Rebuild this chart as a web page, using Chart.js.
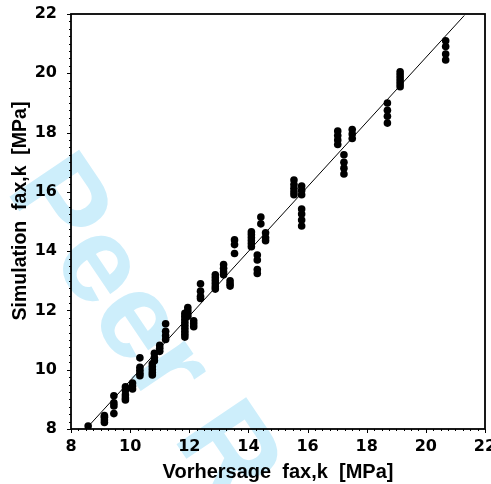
<!DOCTYPE html>
<html>
<head>
<meta charset="utf-8">
<script src="https://cdn.jsdelivr.net/npm/chart.js@4/dist/chart.umd.min.js"></script>
<style>
  body { margin: 0; background: #fff; }
  canvas { display: block; }
</style>
</head>
<body>
<canvas id="scatterChart" width="491" height="484"></canvas>
<script>
// predicted value (x) for each column of points, and the simulated values (y) in that column
const groupX = [8.58, 9.13, 9.45, 9.84, 10.08, 10.33, 10.75, 10.82, 11.0, 11.2,
                11.85, 11.95, 12.15, 12.38, 12.88, 13.16, 13.38, 13.53, 14.1, 14.3,
                14.42, 14.58, 15.54, 15.8, 17.02, 17.23, 17.51, 18.7, 19.13, 20.67];
const groupY = [
  [8.1],
  [8.22, 8.3, 8.4, 8.45],
  [9.12, 8.88, 8.78, 8.52],
  [9.42, 9.3, 9.15, 9.05, 8.98],
  [9.55, 9.45, 9.35],
  [10.4, 10.08, 9.98, 9.88, 9.8],
  [10.2, 10.1, 10.0, 9.9, 9.82],
  [10.55, 10.4, 10.3],
  [10.82, 10.72, 10.62],
  [11.55, 11.3, 11.15, 11.02],
  [11.9, 11.8, 11.7, 11.6, 11.5, 11.4, 11.3, 11.2, 11.1],
  [12.1, 12.0, 11.9, 11.8],
  [11.65, 11.55, 11.45],
  [12.9, 12.65, 12.48, 12.4],
  [13.2, 13.1, 13.0, 12.9, 12.8, 12.72],
  [13.55, 13.42, 13.3, 13.2],
  [13.0, 12.9, 12.82],
  [14.38, 14.22, 13.92],
  [14.65, 14.55, 14.45, 14.35, 14.25, 14.15],
  [13.87, 13.7, 13.38, 13.25],
  [15.15, 14.92],
  [14.62, 14.45, 14.35],
  [16.4, 16.25, 16.12, 16.0, 15.9],
  [16.2, 16.05, 15.9, 15.42, 15.25, 15.05, 14.85],
  [18.05, 17.9, 17.75, 17.6],
  [17.25, 17.0, 16.8, 16.6],
  [18.1, 17.95, 17.8],
  [19.0, 18.75, 18.55, 18.32],
  [20.05, 19.95, 19.85, 19.75, 19.65, 19.55],
  [21.1, 20.9, 20.65, 20.45]
];
// reference line
const lineX = [8.55, 21.3];
const lineY = [8.05, 21.95];
// axis ticks
const xTicks = [8, 10, 12, 14, 16, 18, 20, 22];
const yTicks = [8, 10, 12, 14, 16, 18, 20, 22];
const yTitle = "Simulation  fax,k  [MPa]";

const points = [];
groupX.forEach((x, i) => groupY[i].forEach(y => points.push({ x: x, y: y })));
const linePts = lineX.map((x, i) => ({ x: x, y: lineY[i] }));

const FONT = "'Liberation Sans', Arial, Helvetica, sans-serif";
const TICKFONT = "'DejaVu Sans', sans-serif";

// white background, watermark, box frame, minor ticks, y title
const framePlugin = {
  id: "frame",
  beforeDraw(chart) {
    const c = chart.ctx;
    c.save();
    c.fillStyle = "#fff";
    c.fillRect(0, 0, chart.width, chart.height);
    c.translate(5, 190);
    c.rotate(56 * Math.PI / 180);
    c.font = "bold 122px " + FONT;
    c.fillStyle = "#cdeefb";
    c.fillText("Peer Review", 0, 0);
    c.restore();
  },
  afterDraw(chart) {
    const c = chart.ctx;
    const a = chart.chartArea;
    const xs = chart.scales.x, ys = chart.scales.y;
    c.save();
    c.strokeStyle = "#000";
    c.lineWidth = 1;
    c.beginPath();
    for (let v = 8; v <= 22.001; v += 0.25) {
      const major = Math.abs(v - Math.round(v / 2) * 2) < 1e-6;
      const len = major ? 4 : 2;
      const px = Math.round(xs.getPixelForValue(v)) + 0.5;
      c.moveTo(px, a.bottom);
      c.lineTo(px, a.bottom + len);
      const py = Math.round(ys.getPixelForValue(v)) + 0.5;
      c.moveTo(a.left, py);
      c.lineTo(a.left - len, py);
    }
    c.stroke();
    c.lineWidth = 1.8;
    c.strokeRect(a.left, a.top, a.right - a.left, a.bottom - a.top);

    c.translate(21, 211);
    c.rotate(-Math.PI / 2);
    c.font = "bold 19.5px " + FONT;
    c.fillStyle = "#000";
    c.textAlign = "center";
    c.textBaseline = "middle";
    c.fillText(yTitle, 0, 0);
    c.restore();
  }
};

const tickFont = { family: TICKFONT, size: 16, weight: "bold" };
const titleFont = { family: FONT, size: 20, weight: "bold" };

new Chart(document.getElementById("scatterChart"), {
  type: "scatter",
  data: {
    datasets: [
      {
        data: points,
        backgroundColor: "#000",
        borderWidth: 0,
        pointRadius: 3.8,
        pointHoverRadius: 3.8
      },
      {
        type: "line",
        data: linePts,
        borderColor: "#000",
        borderWidth: 1,
        pointRadius: 0,
        fill: false
      }
    ]
  },
  options: {
    responsive: false,
    animation: false,
    layout: { padding: { top: 14, right: 6, left: 0, bottom: 0 } },
    plugins: { legend: { display: false }, tooltip: { enabled: false } },
    scales: {
      x: {
        type: "linear",
        min: 8,
        max: 22,
        afterBuildTicks: s => { s.ticks = xTicks.map(v => ({ value: v })); },
        afterFit: s => { s.height = 55; s.paddingLeft = 0; s.paddingRight = 0; },
        grid: { display: false },
        border: { display: false },
        ticks: { font: tickFont, color: "#000", padding: 0, maxRotation: 0 },
        title: {
          display: true,
          text: "Vorhersage  fax,k  [MPa]",
          font: titleFont,
          color: "#000",
          padding: { top: 0, bottom: 0 }
        }
      },
      y: {
        type: "linear",
        min: 8,
        max: 22,
        afterBuildTicks: s => { s.ticks = yTicks.map(v => ({ value: v })); },
        afterFit: s => { s.width = 71; s.paddingTop = 0; s.paddingBottom = 0; },
        grid: { display: false },
        border: { display: false },
        ticks: { font: tickFont, color: "#000", padding: 6 }
      }
    }
  },
  plugins: [framePlugin]
});
</script>
</body>
</html>
